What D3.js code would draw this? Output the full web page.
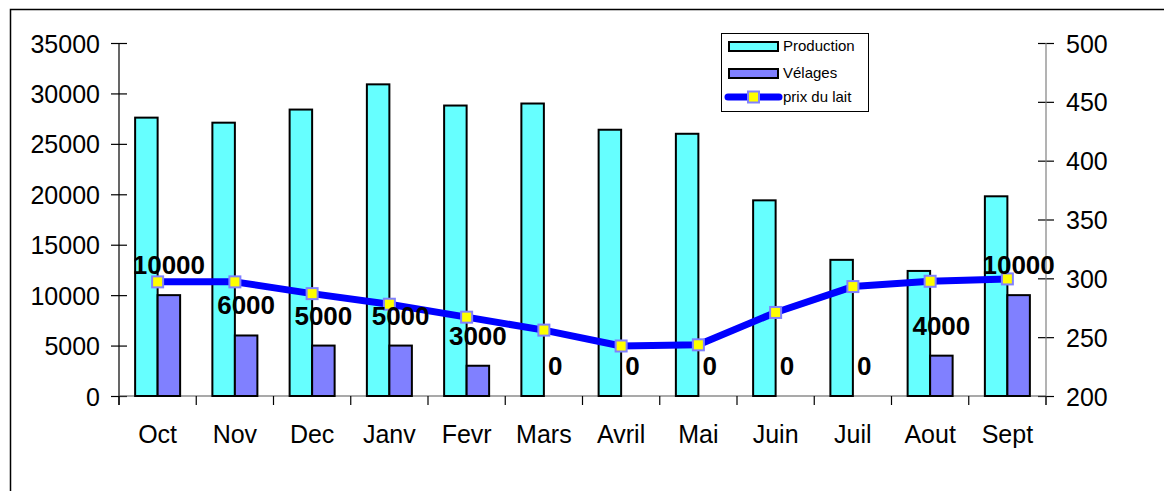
<!DOCTYPE html>
<html>
<head>
<meta charset="utf-8">
<script src="https://cdn.jsdelivr.net/npm/d3@7"></script>
<style>
  html, body { margin: 0; padding: 0; background: #fff; }
  svg { display: block; font-family: "Liberation Sans", Arial, sans-serif; }
</style>
</head>
<body>
<svg id="chart" width="1164" height="491"></svg>
<script>
// Monthly milk production, calvings and milk price (Oct → Sept)
const months = ["Oct", "Nov", "Dec", "Janv", "Fevr", "Mars", "Avril", "Mai", "Juin", "Juil", "Aout", "Sept"];
const production = [27600, 27100, 28400, 30900, 28800, 29000, 26400, 26000, 19400, 13500, 12400, 19800];
const velages = [10000, 6000, 5000, 5000, 3000, 0, 0, 0, 0, 0, 4000, 10000];
const prixLait = [297, 297, 287, 278, 267, 256, 242.5, 243.5, 271, 293, 297.5, 299.5];
const leftTicks = [0, 5000, 10000, 15000, 20000, 25000, 30000, 35000];
const rightTicks = [200, 250, 300, 350, 400, 450, 500];
const seriesNames = ["Production", "Vélages", "prix du lait"];

const colors = { production: "#66FFFF", velages: "#8080FF", line: "#0000FF", marker: "#FFFF00", markerEdge: "#8080FF" };

const svg = d3.select("#chart");
const plot = { left: 119, right: 1046, top: 43, bottom: 396 };
const axisFont = 25;

// Outer frame (open to the right and bottom)
svg.append("rect")
  .attr("x", 10.5).attr("y", 9.5)
  .attr("width", 1200).attr("height", 600)
  .attr("fill", "none").attr("stroke", "#000").attr("stroke-width", 1.5);

const x = d3.scaleBand().domain(months).range([plot.left, plot.right]).padding(0);
const yLeft = d3.scaleLinear().domain([0, 35000]).range([plot.bottom, plot.top]);
const yRight = d3.scaleLinear().domain([200, 500]).range([plot.bottom, plot.top]);
const groupW = 45;
const xs = d3.scaleBand().domain(["p", "v"]).range([0, groupW]).padding(0);
const cx = m => x(m) + x.bandwidth() / 2;

// Left axis
const gl = svg.append("g").attr("transform", `translate(${plot.left},0)`);
gl.call(d3.axisLeft(yLeft).tickValues(leftTicks).tickSize(0).tickPadding(0));
gl.select(".domain").remove();
gl.selectAll(".tick text").remove();
gl.append("line").attr("x1", 0).attr("x2", 0).attr("y1", plot.top).attr("y2", plot.bottom + 9)
  .attr("stroke", "#000").attr("stroke-width", 1.2);
gl.selectAll(".tick").append("line").attr("x1", -8).attr("x2", 8).attr("stroke", "#000").attr("stroke-width", 1.2);
gl.selectAll(".tick").append("text")
  .attr("x", -19).attr("dy", "0.36em").attr("text-anchor", "end")
  .attr("font-size", axisFont).attr("fill", "#000")
  .text(d => d);

// Right axis
const gr = svg.append("g").attr("transform", `translate(${plot.right},0)`);
gr.call(d3.axisRight(yRight).tickValues(rightTicks).tickSize(0).tickPadding(0));
gr.select(".domain").remove();
gr.selectAll(".tick text").remove();
gr.append("line").attr("x1", 0).attr("x2", 0).attr("y1", plot.top).attr("y2", plot.bottom + 9)
  .attr("stroke", "#808080").attr("stroke-width", 1.2);
gr.selectAll(".tick").append("line").attr("x1", -8).attr("x2", 8).attr("stroke", "#000").attr("stroke-width", 1.2);
gr.selectAll(".tick").append("text")
  .attr("x", 20).attr("dy", "0.36em").attr("text-anchor", "start")
  .attr("font-size", axisFont).attr("fill", "#000")
  .text(d => d);

// Category axis
const gx = svg.append("g");
gx.append("line").attr("x1", plot.left).attr("x2", plot.right).attr("y1", plot.bottom).attr("y2", plot.bottom)
  .attr("stroke", "#555").attr("stroke-width", 1.2);
const bounds = months.map(m => x(m)).concat([plot.right]);
gx.selectAll("line.cat").data(bounds).join("line").attr("class", "cat")
  .attr("x1", d => d).attr("x2", d => d).attr("y1", plot.bottom).attr("y2", plot.bottom + 9)
  .attr("stroke", "#000").attr("stroke-width", 1.2);
gx.selectAll("text").data(months).join("text")
  .attr("x", d => cx(d)).attr("y", 443).attr("text-anchor", "middle")
  .attr("font-size", axisFont).attr("fill", "#000").text(d => d);

// Bars
const bars = svg.append("g");
bars.selectAll("rect.prod").data(months).join("rect").attr("class", "prod")
  .attr("x", d => cx(d) - groupW / 2 + xs("p"))
  .attr("width", xs.bandwidth())
  .attr("y", (d, i) => yLeft(production[i]))
  .attr("height", (d, i) => yLeft(0) - yLeft(production[i]))
  .attr("fill", colors.production).attr("stroke", "#000").attr("stroke-width", 2);
bars.selectAll("rect.vel").data(months).join("rect").attr("class", "vel")
  .attr("x", d => cx(d) - groupW / 2 + xs("v"))
  .attr("width", xs.bandwidth())
  .attr("y", (d, i) => yLeft(velages[i]))
  .attr("height", (d, i) => yLeft(0) - yLeft(velages[i]))
  .attr("fill", colors.velages).attr("stroke", "#000").attr("stroke-width", 2);

// Price line with square markers
const line = d3.line().x(d => cx(d.m)).y(d => yRight(d.v));
const pts = months.map((m, i) => ({ m, v: prixLait[i] }));
svg.append("path").datum(pts).attr("d", line)
  .attr("fill", "none").attr("stroke", colors.line).attr("stroke-width", 7).attr("stroke-linejoin", "round");
svg.selectAll("rect.mk").data(pts).join("rect").attr("class", "mk")
  .attr("x", d => cx(d.m) - 5.5).attr("y", d => yRight(d.v) - 5.5)
  .attr("width", 11).attr("height", 11)
  .attr("fill", colors.marker).attr("stroke", colors.markerEdge).attr("stroke-width", 2);

// Calving value labels
svg.selectAll("text.lbl").data(months).join("text").attr("class", "lbl")
  .attr("x", d => cx(d) - groupW / 2 + xs("v") + xs.bandwidth() / 2)
  .attr("y", (d, i) => yLeft(velages[i]) - 21)
  .attr("text-anchor", "middle").attr("font-size", 26).attr("font-weight", "bold").attr("fill", "#000")
  .text((d, i) => velages[i]);

// Legend
const lg = svg.append("g");
lg.append("rect").attr("x", 721.5).attr("y", 33.5).attr("width", 147).attr("height", 78)
  .attr("fill", "#fff").attr("stroke", "#000").attr("stroke-width", 1);
const legendRows = [
  { name: seriesNames[0], y: 46, kind: "bar", fill: colors.production },
  { name: seriesNames[1], y: 73, kind: "bar", fill: colors.velages },
  { name: seriesNames[2], y: 97, kind: "line" }
];
legendRows.forEach(r => {
  if (r.kind === "bar") {
    lg.append("rect").attr("x", 729).attr("y", r.y - 4).attr("width", 49).attr("height", 9)
      .attr("fill", r.fill).attr("stroke", "#000").attr("stroke-width", 2);
  } else {
    lg.append("line").attr("x1", 728).attr("x2", 779).attr("y1", r.y).attr("y2", r.y)
      .attr("stroke", colors.line).attr("stroke-width", 7).attr("stroke-linecap", "round");
    lg.append("rect").attr("x", 748).attr("y", r.y - 5.5).attr("width", 11).attr("height", 11)
      .attr("fill", colors.marker).attr("stroke", colors.markerEdge).attr("stroke-width", 2);
  }
  lg.append("text").attr("x", 783).attr("y", r.y).attr("dy", "0.36em")
    .attr("font-size", 15).attr("fill", "#000").text(r.name);
});
</script>
</body>
</html>
